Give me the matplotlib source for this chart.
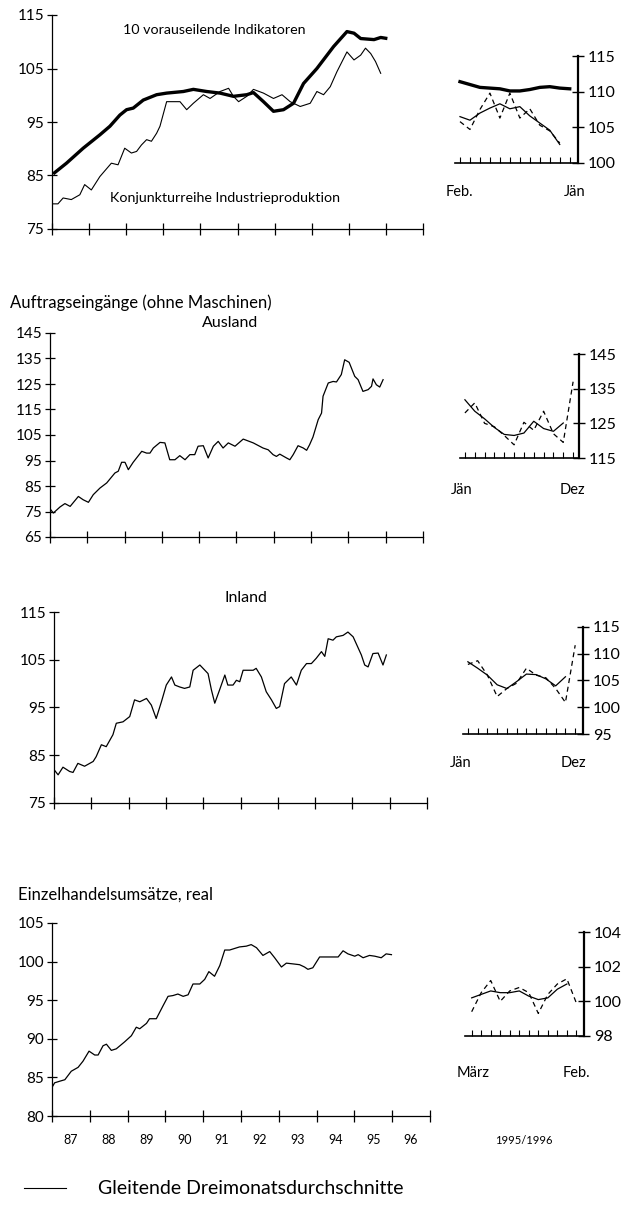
import matplotlib.pyplot as plt
from matplotlib.lines import Line2D

plt.rcParams['font.family'] = ['Lato', 'DejaVu Sans']

# --- main panels: decimal year / index values ---
ind_t = [1987.03, 1987.39, 1987.84, 1988.29, 1988.56, 1988.83, 1989.01, 1989.19, 1989.46, 1989.82,
         1990.09, 1990.54, 1990.81, 1991.17, 1991.53, 1991.89, 1992.25, 1992.43, 1992.70, 1992.97,
         1993.24, 1993.51, 1993.78, 1994.14, 1994.59, 1994.95, 1995.14, 1995.32, 1995.68, 1995.86, 1996.04]
ind_v = [85.3, 87.3, 90.1, 92.6, 94.2, 96.3, 97.3, 97.6, 99.1, 100.1,
         100.4, 100.7, 101.1, 100.7, 100.4, 99.8, 100.1, 100.5, 98.8, 97.0,
         97.3, 98.5, 102.2, 105.0, 109.1, 111.9, 111.6, 110.6, 110.4, 110.8, 110.6]

ip_t = [1987.03, 1987.16, 1987.30, 1987.52, 1987.75, 1987.88, 1988.06, 1988.29, 1988.60, 1988.78,
        1988.96, 1989.14, 1989.28, 1989.41, 1989.55, 1989.68, 1989.82, 1989.91, 1990.09, 1990.27,
        1990.45, 1990.63, 1990.81, 1991.08, 1991.26, 1991.53, 1991.76, 1991.89, 1992.03, 1992.25,
        1992.43, 1992.70, 1992.97, 1993.20, 1993.42, 1993.69, 1993.96, 1994.14, 1994.32, 1994.50,
        1994.68, 1994.95, 1995.14, 1995.32, 1995.45, 1995.59, 1995.72, 1995.86]
ip_v = [79.7, 79.7, 80.8, 80.5, 81.4, 83.3, 82.3, 84.8, 87.3, 87.0,
        90.1, 89.2, 89.5, 90.7, 91.7, 91.4, 92.9, 94.2, 98.8, 98.8,
        98.8, 97.3, 98.5, 100.1, 99.4, 100.7, 101.3, 99.8, 98.8, 99.8,
        101.1, 100.4, 99.4, 100.1, 98.8, 97.9, 98.5, 100.7, 100.1, 101.6,
        104.4, 108.1, 106.6, 107.5, 108.8, 107.8, 106.3, 104.1]

aus_t = [1987.02, 1987.09, 1987.27, 1987.40, 1987.54, 1987.76, 1987.89, 1988.03, 1988.16, 1988.34,
         1988.52, 1988.74, 1988.83, 1988.92, 1989.01, 1989.10, 1989.23, 1989.46, 1989.59, 1989.68,
         1989.77, 1989.95, 1990.08, 1990.21, 1990.35, 1990.48, 1990.62, 1990.75, 1990.88, 1990.97,
         1991.11, 1991.24, 1991.38, 1991.51, 1991.64, 1991.78, 1991.96, 1992.18, 1992.45, 1992.71,
         1992.85, 1992.98, 1993.07, 1993.16, 1993.34, 1993.43, 1993.52, 1993.65, 1993.79, 1993.88,
         1993.96, 1994.05, 1994.19, 1994.28, 1994.32, 1994.46, 1994.59, 1994.68, 1994.81, 1994.90,
         1995.02, 1995.17, 1995.26, 1995.39, 1995.53, 1995.62, 1995.66, 1995.75, 1995.84, 1995.93]
aus_v = [75.7, 74.4, 76.8, 78.1, 77.0, 80.9, 79.6, 78.6, 81.6, 84.2,
         86.2, 90.1, 90.8, 94.3, 94.3, 91.4, 94.3, 98.6, 97.9, 97.9,
         99.9, 102.1, 101.9, 95.3, 95.3, 96.9, 95.3, 97.3, 97.3, 100.6,
         100.8, 96.0, 100.6, 102.5, 99.9, 101.9, 100.6, 103.4, 101.9, 99.9,
         99.2, 97.3, 96.6, 97.5, 96.0, 95.3, 97.3, 100.8, 99.9, 99.0,
         101.2, 104.2, 111.0, 113.6, 120.2, 125.4, 126.0, 125.8, 128.7, 134.5,
         133.5, 128.0, 126.7, 122.1, 122.8, 124.1, 127.0, 124.7, 123.8, 126.7]

inl_t = [1987.00, 1987.11, 1987.24, 1987.42, 1987.51, 1987.64, 1987.82, 1988.05, 1988.13, 1988.27,
         1988.40, 1988.58, 1988.67, 1988.85, 1989.03, 1989.16, 1989.30, 1989.48, 1989.61, 1989.74,
         1989.88, 1990.01, 1990.15, 1990.24, 1990.37, 1990.50, 1990.64, 1990.73, 1990.91, 1991.13,
         1991.22, 1991.31, 1991.44, 1991.58, 1991.66, 1991.80, 1991.89, 1991.98, 1992.07, 1992.34,
         1992.42, 1992.56, 1992.69, 1992.83, 1992.96, 1993.05, 1993.18, 1993.36, 1993.50, 1993.63,
         1993.77, 1993.90, 1994.03, 1994.17, 1994.26, 1994.35, 1994.48, 1994.57, 1994.75, 1994.88,
         1995.02, 1995.24, 1995.33, 1995.42, 1995.55, 1995.69, 1995.82, 1995.91]
inl_v = [82.0, 80.9, 82.5, 81.6, 81.4, 83.3, 82.7, 83.7, 84.7, 87.2,
         86.8, 89.3, 91.7, 92.0, 93.1, 96.6, 96.2, 96.9, 95.5, 92.7,
         96.2, 99.7, 101.4, 99.7, 99.3, 99.0, 99.3, 102.8, 103.9, 102.1,
         98.7, 95.9, 98.7, 101.8, 99.7, 99.7, 100.7, 100.4, 102.8, 102.8,
         103.2, 101.4, 98.3, 96.6, 94.8, 95.2, 100.0, 101.4, 99.7, 102.8,
         104.2, 104.2, 105.3, 106.7, 105.7, 109.4, 109.1, 109.8, 110.1, 110.8,
         109.8, 106.0, 103.9, 103.5, 106.3, 106.4, 103.9, 106.0]

ret_t = [1987.00, 1987.07, 1987.20, 1987.34, 1987.51, 1987.69, 1987.82, 1987.98, 1988.13, 1988.22,
         1988.35, 1988.44, 1988.57, 1988.70, 1988.92, 1989.10, 1989.23, 1989.32, 1989.50, 1989.58,
         1989.76, 1989.94, 1990.07, 1990.20, 1990.33, 1990.47, 1990.60, 1990.73, 1990.91, 1991.04,
         1991.15, 1991.30, 1991.44, 1991.57, 1991.70, 1991.83, 1991.96, 1992.14, 1992.27, 1992.41,
         1992.58, 1992.76, 1992.89, 1993.07, 1993.20, 1993.38, 1993.55, 1993.68, 1993.77, 1993.90,
         1994.08, 1994.30, 1994.57, 1994.70, 1994.83, 1995.01, 1995.10, 1995.23, 1995.40, 1995.54,
         1995.71, 1995.84, 1995.98]
ret_v = [83.7, 84.3, 84.5, 84.7, 85.8, 86.3, 87.1, 88.4, 87.9, 87.9,
         89.1, 89.3, 88.5, 88.7, 89.6, 90.4, 91.5, 91.3, 92.0, 92.6,
         92.6, 94.3, 95.5, 95.6, 95.8, 95.5, 95.7, 97.1, 97.1, 97.7,
         98.7, 98.1, 99.5, 101.5, 101.5, 101.7, 101.9, 102.0, 102.2, 101.8,
         100.8, 101.3, 100.5, 99.3, 99.8, 99.7, 99.6, 99.3, 99.0, 99.2,
         100.6, 100.6, 100.6, 101.4, 101.0, 100.7, 100.9, 100.5, 100.8, 100.7,
         100.5, 101.0, 100.9]

year_labels = ['87', '88', '89', '90', '91', '92', '93', '94', '95', '96']

# --- insets 1995/1996: monthly values (dashed) and 3-month averages (solid) ---
ind_12 = [111.4, 111.0, 110.6, 110.5, 110.4, 110.1, 110.1, 110.3, 110.6, 110.7, 110.5, 110.4]
ip_ma = [106.5, 106.0, 107.0, 107.7, 108.3, 107.6, 107.9, 106.6, 105.6, 104.6, 102.6]
ip_mon = [105.8, 104.7, 107.5, 109.8, 106.3, 109.8, 106.3, 107.6, 105.3, 104.5, 102.8]
aus_ma = [131.8, 128.5, 126.3, 123.8, 121.8, 121.5, 122.2, 125.6, 123.5, 122.7, 125.1]
aus_mon = [128.0, 130.9, 125.0, 124.0, 121.5, 118.8, 125.3, 123.0, 128.5, 122.0, 119.5, 137.0]
inl_ma = [108.5, 107.3, 106.0, 104.2, 103.5, 104.8, 106.2, 106.1, 105.3, 104.0, 105.7]
inl_mon = [108.0, 108.7, 106.0, 102.0, 103.5, 104.5, 107.3, 106.0, 105.5, 103.5, 100.9, 111.6]
ret_ma = [100.2, 100.4, 100.6, 100.5, 100.5, 100.6, 100.3, 100.1, 100.2, 100.7, 101.0]
ret_mon = [99.4, 100.5, 101.2, 100.0, 100.6, 100.8, 100.5, 99.3, 100.4, 101.0, 101.3, 99.9]

W, H = 627, 1207
fig = plt.figure(figsize=(W / 100, H / 100), dpi=100)


def rect(x0, y_top, x1, y_bot):
    # pixel box -> figure fraction
    return [x0 / W, 1 - y_bot / H, (x1 - x0) / W, (y_bot - y_top) / H]


def main_axes(box, ylim, yticks):
    ax = fig.add_axes(rect(*box))
    ax.set_xlim(1987, 1997)
    ax.set_ylim(*ylim)
    ax.spines[['top', 'right']].set_visible(False)
    ax.spines[['left', 'bottom']].set_linewidth(0.9)
    ax.set_yticks(yticks)
    ax.set_xticks(range(1987, 1998))
    ax.tick_params(axis='x', direction='inout', length=9, width=0.9, labelbottom=False)
    ax.tick_params(axis='y', direction='inout', length=7, width=0.9, labelsize=11, pad=2)
    ax.set_facecolor('none')
    return ax


def inset_axes(box, xlim, ylim, yticks, xlabels, left_lab, right_lab, lab_y):
    ax = fig.add_axes(rect(*box))
    ax.set_xlim(*xlim)
    ax.set_ylim(*ylim)
    ax.spines[['top', 'left']].set_visible(False)
    ax.spines['right'].set_linewidth(1.6)
    ax.spines['bottom'].set_linewidth(1.2)
    ax.yaxis.tick_right()
    ax.set_yticks(yticks)
    ax.tick_params(axis='y', direction='inout', length=8, width=1, labelsize=11.5, pad=3)
    ax.set_xticks(range(12))
    ax.tick_params(axis='x', direction='in', length=4, width=0.8, labelbottom=False)
    ax.set_facecolor('none')
    ax.text(left_lab, lab_y, xlabels[0], transform=ax.transAxes, ha='left', va='center', fontsize=10.5)
    ax.text(right_lab, lab_y, xlabels[1], transform=ax.transAxes, ha='right', va='center', fontsize=10.5)
    return ax


# panel 1: leading indicators / industrial production
ax1 = main_axes((52, 15, 423, 229), (75, 115), [75, 85, 95, 105, 115])
ax1.plot(ind_t, ind_v, color='black', lw=2.4, solid_capstyle='butt')
ax1.plot(ip_t, ip_v, color='black', lw=0.8)

# panel 2: Ausland
ax2 = main_axes((50, 333, 423, 537), (65, 145), list(range(65, 146, 10)))
ax2.plot(aus_t, aus_v, color='black', lw=0.9)

# panel 3: Inland
ax3 = main_axes((54, 612, 427, 803), (75, 115), [75, 85, 95, 105, 115])
ax3.plot(inl_t, inl_v, color='black', lw=0.9)

# panel 4: retail sales
ax4 = main_axes((52, 923, 430, 1116), (80, 105), [80, 85, 90, 95, 100, 105])
ax4.plot(ret_t, ret_v, color='black', lw=0.9)
ax4.set_xticks([y + 0.5 for y in range(1987, 1997)], minor=True)
ax4.set_xticklabels(year_labels, minor=True)
ax4.tick_params(axis='x', which='minor', length=0, labelsize=9, pad=13)

dash = (0, (4, 3))

ia = inset_axes((455, 56, 578, 163), (-0.5, 11.83), (100, 115), [100, 105, 110, 115],
                ('Feb.', 'Jän'), -0.08, 1.06, -0.27)
ia.plot(range(len(ind_12)), ind_12, color='black', lw=2.4)
ia.plot(range(len(ip_ma)), ip_ma, color='black', lw=0.9)
ia.plot(range(len(ip_mon)), ip_mon, color='black', lw=0.9, ls=dash)

ib = inset_axes((460, 354, 579, 458), (-0.5, 11.6), (115, 145), [115, 125, 135, 145],
                ('Jän', 'Dez'), -0.08, 1.05, -0.31)
ib.plot(range(len(aus_ma)), aus_ma, color='black', lw=0.9)
ib.plot(range(len(aus_mon)), aus_mon, color='black', lw=0.9, ls=dash)

ic = inset_axes((463, 627, 583, 734), (-0.5, 11.8), (95, 115), [95, 100, 105, 110, 115],
                ('Jän', 'Dez'), -0.11, 1.03, -0.27)
ic.plot(range(len(inl_ma)), inl_ma, color='black', lw=0.9)
ic.plot(range(len(inl_mon)), inl_mon, color='black', lw=0.9, ls=dash)

idd = inset_axes((465, 932, 584, 1036), (-0.7, 11.8), (98, 104), [98, 100, 102, 104],
                 ('März', 'Feb.'), -0.07, 1.05, -0.36)
idd.plot(range(len(ret_ma)), ret_ma, color='black', lw=0.9)
idd.plot(range(len(ret_mon)), ret_mon, color='black', lw=0.9, ls=dash)


# texts
def ftext(x, y, s, **kw):
    fig.text(x / W, 1 - y / H, s, va='center', **kw)


ftext(214, 30, '10 vorauseilende Indikatoren', ha='center', fontsize=10.3)
ftext(225, 198, 'Konjunkturreihe Industrieproduktion', ha='center', fontsize=10.3)
ftext(10, 303, 'Auftragseingänge (ohne Maschinen)', ha='left', fontsize=12)
ftext(230, 323, 'Ausland', ha='center', fontsize=11.5)
ftext(246, 598, 'Inland', ha='center', fontsize=11.5)
ftext(18, 895, 'Einzelhandelsumsätze, real', ha='left', fontsize=12)
ftext(524, 1140, '1995/1996', ha='center', fontsize=8)

fig.add_artist(Line2D([24 / W, 66 / W], [1 - 1188 / H] * 2, color='black', lw=0.8))
ftext(98, 1188, 'Gleitende Dreimonatsdurchschnitte', ha='left', fontsize=14)

fig.savefig('out.png', dpi=100)
